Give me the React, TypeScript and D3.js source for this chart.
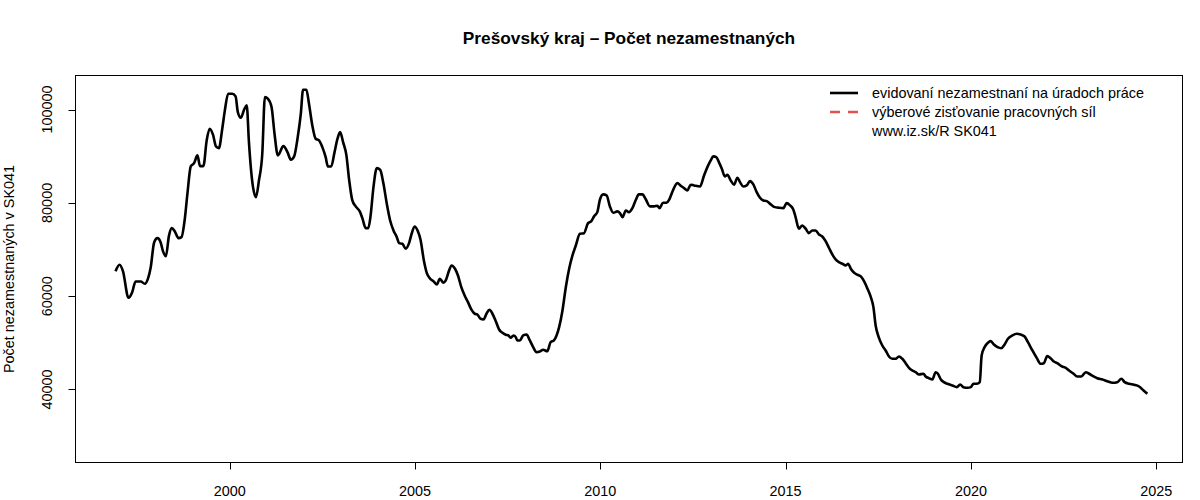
import React from "react";
import * as d3 from "d3";

const title = "Prešovský kraj – Počet nezamestnaných";
const yLabel = "Počet nezamestnaných v SK041";
const legendLabels = [
  "evidovaní nezamestnaní na úradoch práce",
  "výberové zisťovanie pracovných síl",
  "www.iz.sk/R SK041",
];
const xTicks = [2000, 2005, 2010, 2015, 2020, 2025];
const yTicks = [40000, 60000, 80000, 100000];

const years = [
  1996.92, 1997.03, 1997.12, 1997.27, 1997.37, 1997.46, 1997.6, 1997.71, 1997.8, 1997.87,
  1997.96, 1998.05, 1998.14, 1998.2, 1998.28, 1998.36, 1998.44, 1998.52, 1998.62, 1998.7,
  1998.79, 1998.86, 1998.95, 1999.04, 1999.13, 1999.2, 1999.29, 1999.38, 1999.46, 1999.55,
  1999.63, 1999.71, 1999.8, 1999.87, 1999.96, 2000.07, 2000.16, 2000.22, 2000.3, 2000.39,
  2000.46, 2000.52, 2000.57, 2000.63, 2000.71, 2000.79, 2000.88, 2000.95, 2001.03, 2001.13,
  2001.21, 2001.3, 2001.45, 2001.56, 2001.65, 2001.74, 2001.83, 2001.92, 2001.98, 2002.07,
  2002.14, 2002.23, 2002.32, 2002.41, 2002.5, 2002.59, 2002.65, 2002.74, 2002.83, 2002.91,
  2002.98, 2003.06, 2003.15, 2003.22, 2003.31, 2003.4, 2003.51, 2003.58, 2003.67, 2003.74,
  2003.8, 2003.88, 2003.97, 2004.06, 2004.15, 2004.24, 2004.33, 2004.42, 2004.51, 2004.57,
  2004.66, 2004.75, 2004.84, 2004.91, 2004.99, 2005.07, 2005.15, 2005.24, 2005.32, 2005.41,
  2005.5, 2005.59, 2005.67, 2005.77, 2005.83, 2005.92, 2005.99, 2006.08, 2006.16, 2006.25,
  2006.34, 2006.43, 2006.52, 2006.61, 2006.68, 2006.77, 2006.85, 2006.93, 2007.01, 2007.09,
  2007.18, 2007.27, 2007.36, 2007.45, 2007.52, 2007.58, 2007.66, 2007.72, 2007.76, 2007.83,
  2007.92, 2008.01, 2008.1, 2008.19, 2008.28, 2008.37, 2008.46, 2008.57, 2008.66, 2008.75,
  2008.82, 2008.89, 2008.98, 2009.07, 2009.16, 2009.25, 2009.34, 2009.45, 2009.56, 2009.67,
  2009.76, 2009.83, 2009.92, 2009.99, 2010.08, 2010.17, 2010.26, 2010.35, 2010.46, 2010.53,
  2010.6, 2010.69, 2010.77, 2010.87, 2010.96, 2011.04, 2011.14, 2011.22, 2011.34, 2011.45,
  2011.54, 2011.6, 2011.69, 2011.78, 2011.87, 2011.96, 2012.08, 2012.17, 2012.26, 2012.35,
  2012.44, 2012.53, 2012.69, 2012.8, 2012.89, 2012.98, 2013.05, 2013.13, 2013.2, 2013.28,
  2013.36, 2013.43, 2013.52, 2013.61, 2013.7, 2013.77, 2013.86, 2013.95, 2014.04, 2014.13,
  2014.22, 2014.31, 2014.4, 2014.49, 2014.6, 2014.71, 2014.82, 2014.94, 2015.03, 2015.12,
  2015.21, 2015.27, 2015.36, 2015.45, 2015.54, 2015.63, 2015.72, 2015.81, 2015.9, 2015.99,
  2016.08, 2016.17, 2016.26, 2016.35, 2016.44, 2016.53, 2016.62, 2016.69, 2016.76, 2016.85,
  2016.94, 2017.03, 2017.12, 2017.21, 2017.3, 2017.37, 2017.43, 2017.52, 2017.61, 2017.7,
  2017.79, 2017.88, 2017.97, 2018.06, 2018.15, 2018.24, 2018.33, 2018.42, 2018.51, 2018.6,
  2018.72, 2018.78, 2018.87, 2018.96, 2019.05, 2019.11, 2019.19, 2019.27, 2019.37, 2019.5,
  2019.62, 2019.71, 2019.8, 2019.91, 2020.0, 2020.07, 2020.16, 2020.24, 2020.29, 2020.37,
  2020.46, 2020.53, 2020.62, 2020.72, 2020.82, 2020.91, 2021.0, 2021.12, 2021.24, 2021.34,
  2021.45, 2021.54, 2021.66, 2021.78, 2021.88, 2021.97, 2022.06, 2022.15, 2022.24, 2022.33,
  2022.44, 2022.56, 2022.65, 2022.77, 2022.87, 2022.98, 2023.1, 2023.19, 2023.31, 2023.41,
  2023.55, 2023.68, 2023.82, 2023.95, 2024.06, 2024.15, 2024.27, 2024.4, 2024.54, 2024.66,
  2024.76,
];

const registered = [
  65360, 66740, 65360, 59660, 60860, 63150, 63150, 62660, 63870, 66220,
  71450, 72440, 71450, 69650, 68580, 72870, 74580, 73870, 72440, 72650,
  76600, 81960, 87810, 88520, 90170, 87880, 87880, 93390, 95900, 94610,
  92100, 91740, 95900, 99820, 103400, 103400, 102820, 99450, 98250, 99970,
  100890, 93020, 87660, 83370, 81230, 84810, 90530, 102670, 102330, 100530,
  94820, 90170, 92160, 90880, 89250, 89960, 93750, 99110, 104260, 104260,
  101250, 96600, 93750, 93390, 91950, 89810, 87810, 87810, 90880, 93750,
  95170, 93020, 90170, 85170, 80520, 79240, 78170, 76730, 74580, 74580,
  77090, 83370, 87450, 87100, 84100, 79810, 76230, 74090, 72650, 71370,
  71230, 70160, 71370, 73380, 74950, 74090, 72100, 67660, 64940, 63730,
  63220, 62510, 63730, 62870, 63370, 65510, 66590, 65880, 64440, 61930,
  60150, 58720, 57150, 56230, 56080, 55160, 55010, 56230, 57090, 56230,
  54640, 52860, 52160, 51730, 51580, 51080, 51580, 51220, 50510, 50510,
  51580, 51790, 50510, 49070, 48000, 48150, 48510, 48210, 50140, 50510,
  51580, 53360, 56940, 61930, 65880, 68730, 70870, 73380, 73510, 75660,
  76080, 77090, 78010, 80670, 81810, 81600, 79240, 77880, 78170, 77810,
  76950, 78380, 78010, 78950, 80670, 81810, 81810, 80880, 79240, 79240,
  79380, 78870, 80030, 80030, 80880, 82660, 84230, 83670, 83160, 82660,
  83890, 83740, 83520, 85880, 87660, 89100, 89960, 89810, 88730, 87320,
  85670, 86030, 84810, 83890, 85390, 84450, 83520, 83740, 84670, 83950,
  82300, 81100, 80520, 80370, 79670, 79090, 78950, 78870, 79940, 79450,
  78530, 76950, 74460, 75160, 74460, 73510, 74090, 74090, 73230, 72800,
  71800, 70380, 68940, 67870, 67290, 66950, 66590, 66950, 65880, 65020,
  64590, 64230, 63150, 61590, 59790, 57650, 53720, 51080, 49430, 48360,
  47080, 46580, 46580, 47080, 46580, 45640, 44650, 44070, 43710, 43220,
  43370, 42790, 42420, 42140, 43710, 43370, 42140, 41570, 41220, 40860,
  40500, 41070, 40500, 40360, 40500, 41220, 41220, 41570, 47290, 49070,
  50010, 50360, 49650, 49070, 48850, 49650, 50870, 51580, 51940, 51790,
  51360, 50140, 48360, 46710, 45510, 45640, 47140, 46710, 46000, 45640,
  45000, 44650, 44070, 43370, 42790, 42790, 43710, 43370, 42790, 42420,
  42140, 41780, 41440, 41570, 42290, 41570, 41220, 41010, 40640, 39790,
  39080,
];

const W = 1200;
const H = 500;
const L = 75.5;
const R = 1182.5;
const T = 75.5;
const B = 462.5;
const FONT = "'Liberation Sans', Arial, Helvetica, sans-serif";

export default function App() {
  const x = d3.scaleLinear().domain([1995.84, 2025.71]).range([L, R]);
  const y = d3.scaleLinear().domain([24350, 107300]).range([B, T]);
  const pts: [number, number][] = years.map((yr, i) => [yr, registered[i]]);
  const line = d3
    .line<[number, number]>()
    .x((d) => x(d[0]))
    .y((d) => y(d[1]))
    .curve(d3.curveMonotoneX);

  const legX0 = 830;
  const legX1 = 858;
  const legTextX = 872;
  const legY = [93, 112, 131];

  return (
    <svg width={W} height={H} style={{ display: "block", position: "absolute", left: 0, top: 0, background: "#fff" }}>
      <rect x={0} y={0} width={W} height={H} fill="#fff" />
      <text x={(L + R) / 2} y={44} textAnchor="middle" fontFamily={FONT} fontWeight="bold" fontSize={17.3}>
        {title}
      </text>
      <path d={line(pts) || ""} fill="none" stroke="#000" strokeWidth={2.6} strokeLinejoin="round" />
      <rect x={L} y={T} width={R - L} height={B - T} fill="none" stroke="#000" strokeWidth={1} />
      {xTicks.map((t) => (
        <g key={t}>
          <line x1={Math.round(x(t)) + 0.5} x2={Math.round(x(t)) + 0.5} y1={B} y2={B + 7} stroke="#000" />
          <text x={x(t)} y={496} textAnchor="middle" fontFamily={FONT} fontSize={14.4}>
            {t}
          </text>
        </g>
      ))}
      {yTicks.map((t) => (
        <g key={t}>
          <line x1={L - 7} x2={L} y1={Math.round(y(t)) + 0.5} y2={Math.round(y(t)) + 0.5} stroke="#000" />
          <text
            transform={`translate(52,${y(t)}) rotate(-90)`}
            textAnchor="middle"
            fontFamily={FONT}
            fontSize={14.4}
          >
            {d3.format("d")(t)}
          </text>
        </g>
      ))}
      <text
        transform={`translate(14,${(T + B) / 2}) rotate(-90)`}
        textAnchor="middle"
        fontFamily={FONT}
        fontSize={14.4}
      >
        {yLabel}
      </text>
      <line x1={legX0} x2={legX1} y1={legY[0]} y2={legY[0]} stroke="#000" strokeWidth={2.6} />
      <line
        x1={legX0}
        x2={legX1}
        y1={legY[1]}
        y2={legY[1]}
        stroke="#e25050"
        strokeWidth={2.6}
        strokeDasharray="10,8"
      />
      {legendLabels.map((s, i) => (
        <text key={s} x={legTextX} y={legY[i] + 5} fontFamily={FONT} fontSize={14.4}>
          {s}
        </text>
      ))}
    </svg>
  );
}
